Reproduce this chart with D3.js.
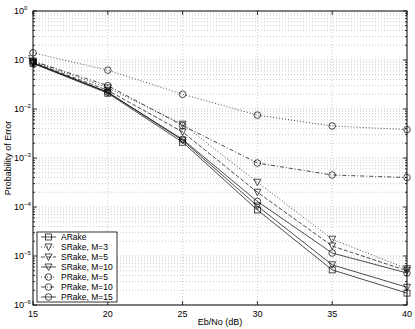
<!DOCTYPE html>
<html>
<head>
<meta charset="utf-8">
<script src="https://cdn.jsdelivr.net/npm/d3@7"></script>
<style>
  body { margin: 0; background: #fff; }
  svg { display: block; font-family: "Liberation Sans", Arial, sans-serif; }
</style>
</head>
<body>
<div class="container"></div>
<script>
const w = 415;
const h = 329;
const margin = { top: 11, left: 33, right: 8, bottom: 24 };

// data
const ebno = [15, 20, 25, 30, 35, 40];
const xTicks = [15, 20, 25, 30, 35, 40];
const yDecades = [0, -1, -2, -3, -4, -5, -6];
const names = ['ARake', 'SRake, M=3', 'SRake, M=5', 'SRake, M=10', 'PRake, M=5', 'PRake, M=10', 'PRake, M=15'];
const aRake = [0.085, 0.021, 0.0021, 8.7e-5, 5.2e-6, 1.75e-6];
const sRake3 = [0.095, 0.027, 0.0049, 3.2e-4, 2.2e-5, 5.5e-6];
const sRake5 = [0.09, 0.024, 0.0034, 2.0e-4, 1.6e-5, 5.0e-6];
const sRake10 = [0.087, 0.022, 0.0023, 1.05e-4, 6.6e-6, 2.3e-6];
const pRake5 = [0.14, 0.062, 0.020, 7.5e-3, 4.5e-3, 3.8e-3];
const pRake10 = [0.095, 0.030, 0.0046, 7.9e-4, 4.5e-4, 4.0e-4];
const pRake15 = [0.088, 0.022, 0.0024, 1.3e-4, 1.15e-5, 4.5e-6];

const seriesValues = [aRake, sRake3, sRake5, sRake10, pRake5, pRake10, pRake15];
const markers = ['square', 'tri', 'tri', 'tri', 'circle', 'circle', 'circle'];
const dashes = [null, '1,2', '4,2', null, '1,2', '4,2,1,2', null];

const svg = d3.select('.container')
    .append('svg')
    .attr('width', w)
    .attr('height', h);

const x0 = margin.left, x1 = w - margin.right;
const y0 = margin.top, y1 = h - margin.bottom;

const xScale = d3.scaleLinear().domain([15, 40]).range([x0, x1]);
const yScale = d3.scaleLog().domain([1e-6, 1]).range([y1, y0]);

// grid
const grid = svg.append('g').attr('stroke', '#aaa').attr('stroke-width', 0.6).attr('stroke-dasharray', '1,2');
const minorVals = [];
yDecades.slice(1).forEach(d => {
    for (let k = 1; k < 10; k++) minorVals.push(k * Math.pow(10, d));
});
minorVals.forEach(v => {
    if (v >= 1) return;
    grid.append('line')
        .attr('x1', x0).attr('x2', x1)
        .attr('y1', yScale(v)).attr('y2', yScale(v));
});
xTicks.slice(1, -1).forEach(v => {
    grid.append('line')
        .attr('x1', xScale(v)).attr('x2', xScale(v))
        .attr('y1', y0).attr('y2', y1);
});

// frame
svg.append('rect')
    .attr('x', x0).attr('y', y0)
    .attr('width', x1 - x0).attr('height', y1 - y0)
    .attr('fill', 'none').attr('stroke', '#000').attr('stroke-width', 1);

// ticks
const ticks = svg.append('g').attr('stroke', '#000').attr('stroke-width', 0.8);
xTicks.forEach(v => {
    ticks.append('line').attr('x1', xScale(v)).attr('x2', xScale(v)).attr('y1', y1).attr('y2', y1 - 4);
    ticks.append('line').attr('x1', xScale(v)).attr('x2', xScale(v)).attr('y1', y0).attr('y2', y0 + 4);
});
minorVals.concat([1]).forEach(v => {
    const len = Math.abs(Math.log10(v) - Math.round(Math.log10(v))) < 1e-9 ? 4 : 2;
    ticks.append('line').attr('x1', x0).attr('x2', x0 + len).attr('y1', yScale(v)).attr('y2', yScale(v));
    ticks.append('line').attr('x1', x1).attr('x2', x1 - len).attr('y1', yScale(v)).attr('y2', yScale(v));
});

// tick labels
svg.append('g').selectAll('text')
    .data(xTicks).join('text')
    .attr('x', d => xScale(d)).attr('y', y1 + 12)
    .attr('text-anchor', 'middle')
    .style('font-size', '9px')
    .text(d => d);

const yl = svg.append('g').selectAll('text')
    .data(yDecades).join('text')
    .attr('x', x0 - 19).attr('y', d => yScale(Math.pow(10, d)) + 3)
    .style('font-size', '9px');
yl.append('tspan').text('10');
yl.append('tspan').attr('dy', -4).style('font-size', '6px').text(d => d === 0 ? '0' : '\u2212' + (-d));

svg.append('text')
    .attr('x', (x0 + x1) / 2).attr('y', h - 4)
    .attr('text-anchor', 'middle')
    .style('font-size', '9px')
    .text('Eb/No (dB)');

svg.append('text')
    .attr('transform', `translate(11, ${(y0 + y1) / 2}) rotate(-90)`)
    .attr('text-anchor', 'middle')
    .style('font-size', '9px')
    .text('Probability of Error');

// markers
const drawMarker = (g, type, cx, cy) => {
    if (type === 'square') {
        g.append('rect').attr('x', cx - 3).attr('y', cy - 3).attr('width', 6).attr('height', 6);
    } else if (type === 'tri') {
        g.append('path').attr('d', `M${cx - 3.5},${cy - 3} L${cx + 3.5},${cy - 3} L${cx},${cy + 3.5} Z`);
    } else {
        g.append('circle').attr('cx', cx).attr('cy', cy).attr('r', 3.3);
    }
};

const line = d3.line().x((d, i) => xScale(ebno[i])).y(d => yScale(d));

seriesValues.forEach((vals, s) => {
    const g = svg.append('g');
    g.append('path')
        .attr('d', line(vals))
        .attr('fill', 'none')
        .attr('stroke', '#000')
        .attr('stroke-width', 0.7)
        .attr('stroke-dasharray', dashes[s]);
    const mg = g.append('g').attr('fill', 'none').attr('stroke', '#000').attr('stroke-width', 0.7);
    vals.forEach((v, i) => drawMarker(mg, markers[s], xScale(ebno[i]), yScale(v)));
});

// legend
const lg = svg.append('g');
lg.append('rect')
    .attr('x', 37).attr('y', 232).attr('width', 80).attr('height', 70)
    .attr('fill', '#fff').attr('stroke', '#000').attr('stroke-width', 0.8);
names.forEach((n, s) => {
    const ry = 237 + s * 10;
    const row = lg.append('g');
    row.append('line')
        .attr('x1', 41).attr('x2', 56).attr('y1', ry).attr('y2', ry)
        .attr('stroke', '#000').attr('stroke-width', 0.7)
        .attr('stroke-dasharray', dashes[s]);
    const mg = row.append('g').attr('fill', 'none').attr('stroke', '#000').attr('stroke-width', 0.7);
    drawMarker(mg, markers[s], 48.5, ry);
    row.append('text')
        .attr('x', 61).attr('y', ry + 3)
        .style('font-size', '8.5px')
        .text(n);
});
</script>
</body>
</html>
